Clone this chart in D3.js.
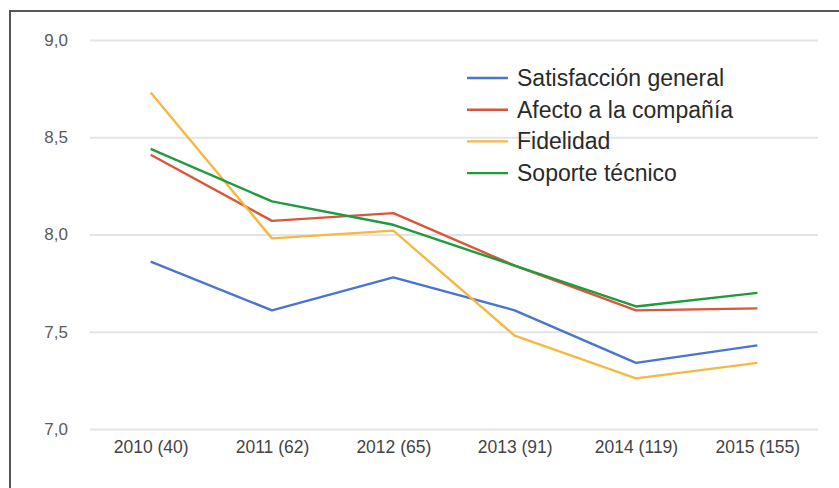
<!DOCTYPE html>
<html>
<head>
<meta charset="utf-8">
<script src="https://cdn.jsdelivr.net/npm/d3@7"></script>
<style>
  body { margin: 0; background: #fff; }
  text { font-family: "Liberation Sans", Arial, sans-serif; }
</style>
</head>
<body>
<div id="chart"></div>
<script>
/* Chart data */
var years = ["2010 (40)", "2011 (62)", "2012 (65)", "2013 (91)", "2014 (119)", "2015 (155)"];
var seriesNames = ["Satisfacción general", "Afecto a la compañía", "Fidelidad", "Soporte técnico"];
var satisfaccion = [7.86, 7.61, 7.78, 7.61, 7.34, 7.43];
var afecto = [8.41, 8.07, 8.11, 7.84, 7.61, 7.62];
var fidelidad = [8.73, 7.98, 8.02, 7.48, 7.26, 7.34];
var soporte = [8.44, 8.17, 8.05, 7.84, 7.63, 7.70];
var yTicks = [7.0, 7.5, 8.0, 8.5, 9.0];

var colors = ["#4a74d0", "#d8573c", "#f5b842", "#1f9a3c"];
var allSeries = [satisfaccion, afecto, fidelidad, soporte];

var width = 839, height = 488;

var svg = d3.select("#chart").append("svg")
    .attr("width", width).attr("height", height);

/* frame around the chart */
svg.append("rect")
    .attr("x", 10).attr("y", 11)
    .attr("width", 840).attr("height", 490)
    .attr("fill", "none")
    .attr("stroke", "#555")
    .attr("stroke-width", 2);

var x = d3.scalePoint()
    .domain(years)
    .range([90, 818])
    .padding(0.5);

var y = d3.scaleLinear()
    .domain([7, 9])
    .range([429, 40]);

/* gridlines + y labels */
var yAxis = svg.append("g")
    .attr("transform", "translate(90,0)")
    .call(d3.axisLeft(y).tickValues(yTicks)
        .tickSize(-728)
        .tickPadding(22)
        .tickFormat(function(d) { return d3.format(".1f")(d).replace(".", ","); }));
yAxis.select(".domain").remove();
yAxis.selectAll("line").attr("stroke", "#e4e4e4").attr("stroke-width", 2);
yAxis.selectAll("text").attr("fill", "#5a5a5a").style("font-size", "17px");

/* x labels */
var xAxis = svg.append("g")
    .attr("transform", "translate(0,429)")
    .call(d3.axisBottom(x).tickSize(0).tickPadding(12));
xAxis.select(".domain").remove();
xAxis.selectAll("text").attr("fill", "#444").style("font-size", "17.5px");

/* lines */
var line = d3.line()
    .x(function(d, i) { return x(years[i]); })
    .y(function(d) { return y(d); });

svg.selectAll(".series")
    .data(allSeries)
    .enter().append("path")
    .attr("class", "series")
    .attr("d", line)
    .attr("fill", "none")
    .attr("stroke", function(d, i) { return colors[i]; })
    .attr("stroke-width", 2.4)
    .attr("stroke-linejoin", "round");

/* legend */
var leg = svg.selectAll(".leg")
    .data(seriesNames)
    .enter().append("g")
    .attr("class", "leg")
    .attr("transform", function(d, i) { return "translate(467," + (78 + i * 31.7) + ")"; });

leg.append("line")
    .attr("x1", 0).attr("x2", 41)
    .attr("stroke", function(d, i) { return colors[i]; })
    .attr("stroke-width", 2.4);

leg.append("text")
    .attr("x", 50)
    .attr("dy", "0.35em")
    .attr("fill", "#2a2a2a")
    .style("font-size", "23px")
    .text(function(d) { return d; });
</script>
</body>
</html>
